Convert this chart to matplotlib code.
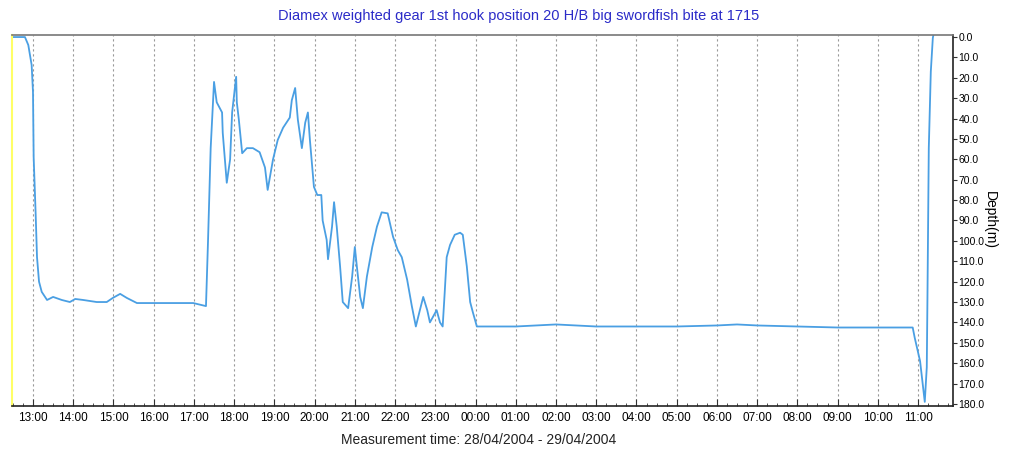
import matplotlib
matplotlib.use("Agg")
import matplotlib.pyplot as plt
import matplotlib.dates as mdates
from matplotlib.ticker import FixedLocator, FormatStrFormatter
from datetime import datetime, timedelta

title = "Diamex weighted gear 1st hook position 20 H/B big swordfish bite at 1715"
xlabel = "Measurement time: 28/04/2004 - 29/04/2004"
ylabel = "Depth(m)"
start_day = "2004-04-28"

times = ["12:30", "12:48", "12:53", "12:58", "13:00", "13:01", "13:04", "13:06", "13:09", "13:13",
         "13:21", "13:30", "13:43", "13:55", "14:03", "14:15", "14:35", "14:50", "14:59", "15:10",
         "15:20", "15:35", "16:20", "16:59", "17:18", "17:21", "17:25", "17:30", "17:34", "17:42",
         "17:43", "17:49", "17:54", "17:57", "18:03", "18:04", "18:07", "18:12", "18:19", "18:28",
         "18:38", "18:46", "18:50", "18:58", "19:05", "19:13", "19:23", "19:26", "19:31", "19:35",
         "19:41", "19:46", "19:50", "19:53", "19:59", "20:04", "20:10", "20:12", "20:18", "20:20",
         "20:26", "20:29", "20:33", "20:38", "20:42", "20:50", "20:56", "21:00", "21:03", "21:08",
         "21:12", "21:18", "21:26", "21:33", "21:40", "21:49", "21:57", "22:04", "22:10", "22:18",
         "22:25", "22:31", "22:37", "22:42", "22:48", "22:52", "22:57", "23:02", "23:07", "23:11",
         "23:14", "23:17", "23:22", "23:29", "23:37", "23:41", "23:47", "23:52", "23:56", "00:02",
         "00:30", "01:00", "01:30", "02:00", "02:30", "03:00", "04:00", "05:00", "06:00", "06:30",
         "07:00", "08:00", "09:00", "10:00", "10:52", "10:55", "11:03", "11:10", "11:13", "11:14",
         "11:16", "11:19", "11:22", "11:24"]
depths = [0, 0, 3.9, 13.7, 27, 59, 87, 108, 120, 125,
          129, 127.5, 129, 130, 128.5, 129, 130, 130, 128, 126,
          128, 130.5, 130.5, 130.5, 132, 100.5, 54.5, 22, 32, 37,
          47, 71.5, 60, 37, 19.5, 32, 40.5, 57, 54.5, 54.5,
          56.5, 64, 75, 60, 50.5, 44.5, 39.5, 31, 25, 40.5,
          54.5, 42, 37, 50.5, 73.5, 77.5, 77.5, 90, 99.5, 109,
          93, 81, 93, 112.5, 130, 133, 117.5, 103, 112.5, 127.5,
          133, 117.5, 103, 93, 86, 86.5, 98, 104.5, 108, 119,
          132, 142, 134, 127.5, 134, 140, 137, 134, 140, 142,
          125.5, 108, 102, 97, 96, 97, 112.5, 130, 135, 142,
          142, 142, 141.5, 141, 141.5, 142, 142, 142, 141.5, 141,
          141.5, 142, 142.5, 142.5, 142.5, 147.5, 159, 179, 162, 128,
          54.5, 17, 0.5, -3]

depth_ticks = [0, 10, 20, 30, 40, 50, 60, 70, 80, 90, 100, 110, 120, 130, 140, 150, 160, 170, 180]

# build datetimes (roll over midnight)
base = datetime.strptime(start_day, "%Y-%m-%d")
xs = []
day = 0
prev = None
for t in times:
    hh, mm = map(int, t.split(":"))
    mins = hh * 60 + mm
    if prev is not None and mins < prev:
        day += 1
    prev = mins
    xs.append(base + timedelta(days=day, minutes=mins))

plt.rcParams['font.family'] = ['Liberation Sans', 'DejaVu Sans']

fig = plt.figure(figsize=(10.17, 4.53), dpi=100)
ax = fig.add_axes([0.0118, 0.1038, 0.9252, 0.8189])

ax.plot(xs, depths, color='#4a9fe3', lw=1.3)

ax.set_xlim(base + timedelta(hours=12, minutes=28.7), base + timedelta(days=1, hours=11, minutes=52))
ax.set_ylim(181, -1)

ax.xaxis.set_major_locator(mdates.HourLocator())
ax.xaxis.set_major_formatter(mdates.DateFormatter("%H:%M"))
ax.xaxis.set_minor_locator(mdates.MinuteLocator(byminute=[15, 30, 45]))
ax.tick_params(axis='x', which='major', direction='in', length=5, labelsize=8.5, pad=4, color='#333333')
ax.tick_params(axis='x', which='minor', direction='in', length=2.5, color='#333333')
ax.grid(axis='x', which='major', linestyle=(0, (2, 2.5)), color='#999999', lw=0.8)

ax.yaxis.tick_right()
ax.yaxis.set_label_position('right')
ax.yaxis.set_major_locator(FixedLocator(depth_ticks))
ax.yaxis.set_major_formatter(FormatStrFormatter('%.1f'))
ax.tick_params(axis='y', direction='out', length=3, labelsize=7.5, pad=1, color='#333333')
ax.set_ylabel(ylabel, rotation=270, fontsize=10, labelpad=9)

for s in ['top', 'bottom', 'right']:
    ax.spines[s].set_color('#222222')
    ax.spines[s].set_linewidth(1.2)
ax.spines['top'].set_color('#777777')
ax.spines['left'].set_color('#ffff66')
ax.spines['left'].set_linewidth(1.5)

fig.text(0.510, 0.965, title, color='#2b2bc8', fontsize=10.5, ha='center', va='center')
fig.text(0.4705, 0.029, xlabel, color='#222222', fontsize=10, ha='center', va='center')

fig.savefig('out.png', dpi=100)
